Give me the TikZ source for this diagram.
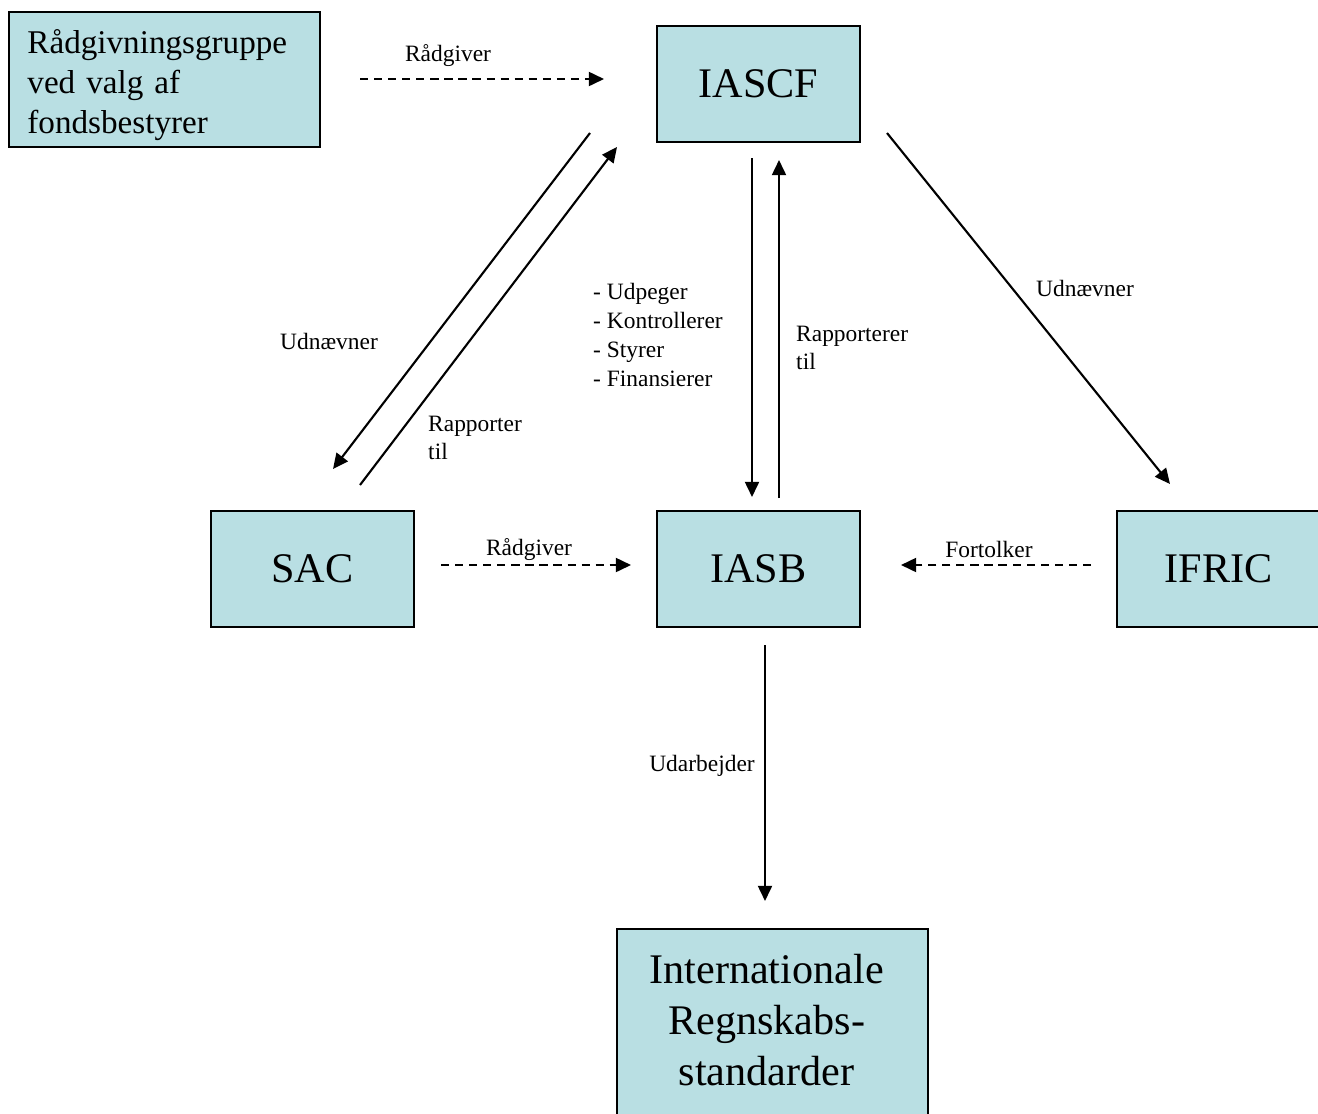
\documentclass[tikz,border=0pt]{standalone}
\usepackage{fontspec}
\setmainfont{Liberation Serif}
\usepackage{tikz}
\usetikzlibrary{arrows.meta, positioning}
\definecolor{boxblue}{RGB}{185,223,227}

\begin{document}
\begin{tikzpicture}[
    x=0.03cm, y=-0.03cm,
    box/.style={draw, line width=1.4pt, fill=boxblue, minimum width=6.09cm, minimum height=3.48cm, inner sep=0pt, font=\fontsize{36}{43}\selectfont},
    lbl/.style={inner sep=0pt, font=\fontsize{20}{24}\selectfont},
    arr/.style={-{Triangle[length=13pt, width=12pt]}, line width=1.8pt},
    dsh/.style={arr, dash pattern=on 7pt off 5pt},
]
    \useasboundingbox (0,0) rectangle (1318,1113);

    \node[box] (IASCF) at (758.5,84) {IASCF};
    \node[box] (SAC) at (312.5,569) {SAC};
    \node[box] (IASB) at (758.5,569) {IASB};
    \node[box] (IFRIC) at (1218.5,569) {IFRIC};
    \node[box, minimum width=9.33cm, minimum height=4.05cm, inner xsep=15.4pt, text width=234pt, align=left, font=\fontsize{28.3}{34}\selectfont] (RG) at (164.5,79.5)
        {\rule{0pt}{30pt}Rådgivningsgruppe\\ved valg af\\fondsbestyrer};
    \node[box, minimum width=9.33cm, minimum height=5.7cm, font=\fontsize{36}{43.5}\selectfont] (IRS) at (772.5,1024)
        {\hspace*{-10pt}\raisebox{5pt}{\begin{tabular}{@{}c@{}}Internationale\\Regnskabs-\\standarder\end{tabular}}};

    % ends of the connectors
    \coordinate (rg1) at (360,79);   \coordinate (rg2) at (604,79);
    \coordinate (un1) at (590,133);  \coordinate (un2) at (333,469);
    \coordinate (ra1) at (360,485);  \coordinate (ra2) at (617,147);
    \coordinate (dn1) at (752,158);  \coordinate (dn2) at (752,497);
    \coordinate (up1) at (779,498);  \coordinate (up2) at (779,160);
    \coordinate (if1) at (887,133);  \coordinate (if2) at (1170,484);
    \coordinate (sa1) at (441,565);  \coordinate (sa2) at (631,565);
    \coordinate (fo1) at (1091,565); \coordinate (fo2) at (901,565);
    \coordinate (ud1) at (765,645);  \coordinate (ud2) at (765,901);

    \draw[dsh] (rg1) -- (rg2);
    \draw[arr] (un1) -- (un2);
    \draw[arr] (ra1) -- (ra2);
    \draw[arr] (dn1) -- (dn2);
    \draw[arr] (up1) -- (up2);
    \draw[arr] (if1) -- (if2);
    \draw[dsh] (sa1) -- (sa2);
    \draw[dsh] (fo1) -- (fo2);
    \draw[arr] (ud1) -- (ud2);

    \node[lbl] (l1) at (448,56) {Rådgiver};
    \node[lbl] (l2) at (329,341) {Udnævner};
    \node[lbl, anchor=west, align=left] (l3) at (428,438) {Rapporter\\til};
    \node[lbl, anchor=west, align=left, font=\fontsize{20}{24.6}\selectfont] (l4) at (593,335) {- Udpeger\\- Kontrollerer\\- Styrer\\- Finansierer};
    \node[lbl, anchor=west, align=left] (l5) at (796,348) {Rapporterer\\til};
    \node[lbl] (l6) at (1085,288) {Udnævner};
    \node[lbl] (l7) at (529,550) {Rådgiver};
    \node[lbl] (l8) at (989,549) {Fortolker};
    \node[lbl] (l9) at (702,766) {Udarbejder};

\end{tikzpicture}
\end{document}
